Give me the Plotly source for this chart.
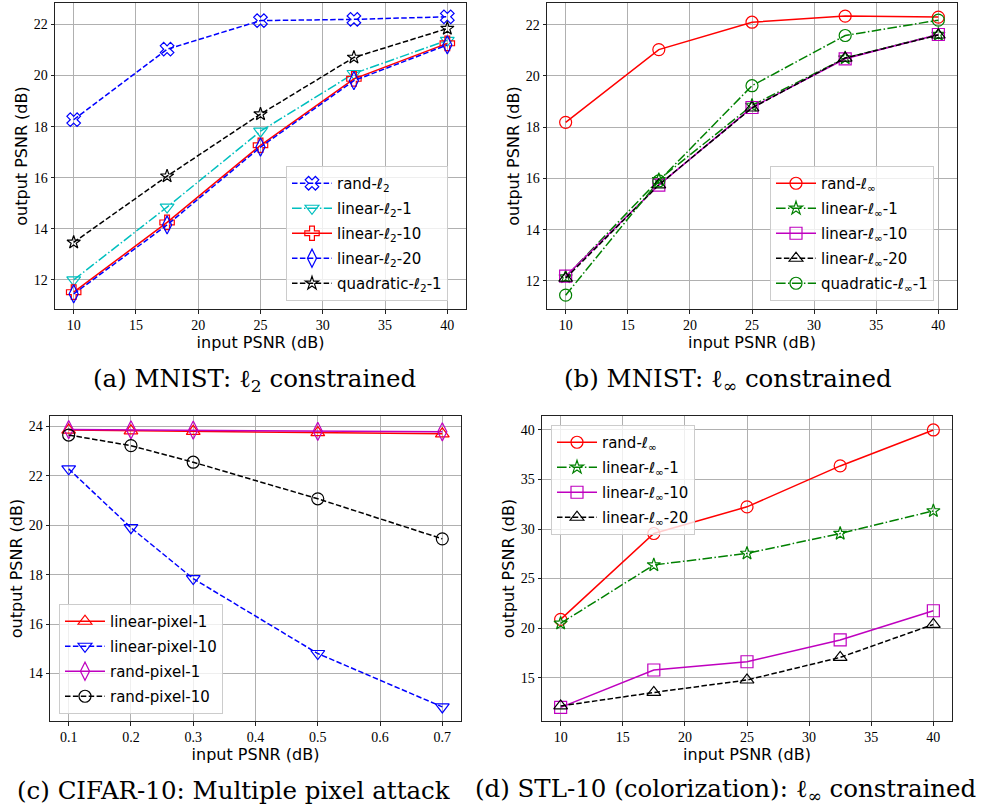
import plotly.graph_objects as go

# ---------------- data ----------------
psnr_x = [10, 17.5, 25, 32.5, 40]
pixel_x = [0.1, 0.2, 0.3, 0.5, 0.7]

# (a) MNIST l2
a_rand_l2 = [18.27, 21.03, 22.15, 22.2, 22.3]
a_lin_l2_1 = [12.0, 14.85, 17.82, 20.08, 21.38]
a_lin_l2_10 = [11.52, 14.25, 17.27, 19.87, 21.26]
a_lin_l2_20 = [11.45, 14.15, 17.2, 19.8, 21.2]
a_quad_l2_1 = [13.47, 16.06, 18.49, 20.71, 21.84]

# (b) MNIST linf
b_rand = [18.19, 21.03, 22.1, 22.34, 22.3]
b_lin_1 = [12.15, 15.95, 18.85, 20.7, 21.62]
b_lin_10 = [12.18, 15.74, 18.77, 20.67, 21.62]
b_lin_20 = [12.1, 15.75, 18.75, 20.7, 21.6]
b_quad_1 = [11.44, 15.9, 19.62, 21.58, 22.18]

# (c) CIFAR-10 pixel
c_lin_pix_1 = [23.85, 23.82, 23.8, 23.75, 23.7]
c_lin_pix_10 = [22.28, 19.9, 17.84, 14.81, 12.65]
c_rand_pix_1 = [23.87, 23.86, 23.85, 23.8, 23.78]
c_rand_pix_10 = [23.65, 23.22, 22.55, 21.07, 19.45]

# (d) STL-10 linf
d_rand = [20.88, 29.55, 32.24, 36.37, 40.0]
d_lin_1 = [20.48, 26.37, 27.54, 29.55, 31.83]
d_lin_10 = [12.0, 15.77, 16.6, 18.8, 21.75]
d_lin_20 = [12.14, 13.5, 14.76, 17.04, 20.37]

# ---------------- styles ----------------
DASH = "5.5px,2.4px"
DASHDOT = "9.6px,2.4px,1.5px,2.4px"
BLUE, CYAN, RED, BLACK = "#0000ff", "#00bfbf", "#ff0000", "#000000"
GREEN, MAGENTA = "#008000", "#bf00bf"
SANS = "DejaVu Sans"
SERIF = "DejaVu Serif"

fig = go.Figure()
_count = [0]


def add(x, y, name, color, dash, symbol, size, ax, legend):
    _count[0] += 1
    fig.add_trace(go.Scatter(
        x=x, y=y, name=name, mode="lines+markers",
        line=dict(color=color, width=1.5, dash=dash),
        marker=dict(symbol=symbol, size=size, color=color,
                    line=dict(color=color, width=1.2)),
        xaxis="x" + ax, yaxis="y" + ax, legend=legend,
        legendgroup="g%d" % _count[0]))


# (a)
add(psnr_x, a_rand_l2, "rand-ℓ<sub>2</sub>", BLUE, DASH, "x-open", 12, "", "legend")
add(psnr_x, a_lin_l2_1, "linear-ℓ<sub>2</sub>-1", CYAN, DASHDOT, "triangle-down-open", 12, "", "legend")
add(psnr_x, a_lin_l2_10, "linear-ℓ<sub>2</sub>-10", RED, "solid", "cross-open", 12, "", "legend")
add(psnr_x, a_lin_l2_20, "linear-ℓ<sub>2</sub>-20", BLUE, DASH, "diamond-tall-open", 13, "", "legend")
add(psnr_x, a_quad_l2_1, "quadratic-ℓ<sub>2</sub>-1", BLACK, DASH, "star-open", 10, "", "legend")

# (b)
add(psnr_x, b_rand, "rand-ℓ<sub>∞</sub>", RED, "solid", "circle-open", 12, "2", "legend2")
add(psnr_x, b_lin_1, "linear-ℓ<sub>∞</sub>-1", GREEN, DASHDOT, "star-open", 10, "2", "legend2")
add(psnr_x, b_lin_10, "linear-ℓ<sub>∞</sub>-10", MAGENTA, "solid", "square-open", 12, "2", "legend2")
add(psnr_x, b_lin_20, "linear-ℓ<sub>∞</sub>-20", BLACK, DASH, "triangle-up-open", 12, "2", "legend2")
add(psnr_x, b_quad_1, "quadratic-ℓ<sub>∞</sub>-1", GREEN, DASHDOT, "circle-open", 12, "2", "legend2")

# (c)
add(pixel_x, c_lin_pix_1, "linear-pixel-1", RED, "solid", "triangle-up-open", 12, "3", "legend3")
add(pixel_x, c_lin_pix_10, "linear-pixel-10", BLUE, DASH, "triangle-down-open", 12, "3", "legend3")
add(pixel_x, c_rand_pix_1, "rand-pixel-1", MAGENTA, "solid", "diamond-tall-open", 13, "3", "legend3")
add(pixel_x, c_rand_pix_10, "rand-pixel-10", BLACK, DASH, "circle-open", 12, "3", "legend3")

# (d)
add(psnr_x, d_rand, "rand-ℓ<sub>∞</sub>", RED, "solid", "circle-open", 12, "4", "legend4")
add(psnr_x, d_lin_1, "linear-ℓ<sub>∞</sub>-1", GREEN, DASHDOT, "star-open", 10, "4", "legend4")
add(psnr_x, d_lin_10, "linear-ℓ<sub>∞</sub>-10", MAGENTA, "solid", "square-open", 12, "4", "legend4")
add(psnr_x, d_lin_20, "linear-ℓ<sub>∞</sub>-20", BLACK, DASH, "triangle-up-open", 12, "4", "legend4")

W, H = 994, 809


def px_x(p):
    return p / W


def px_y(p):
    return 1 - p / H


def axis(dom, rng, tickvals, title, anchor, standoff):
    return dict(domain=dom, range=rng, tickvals=tickvals, anchor=anchor,
                showgrid=True, gridcolor="#b0b0b0", gridwidth=0.8,
                showline=True, mirror=True, linecolor="#222222", linewidth=1,
                ticks="outside", ticklen=3.5, tickcolor="#222222",
                tickfont=dict(family="Liberation Serif", size=14, color="black"),
                zeroline=False,
                title=dict(text=title, font=dict(family=SANS, size=16, color="black"),
                           standoff=standoff))


psnr_ticks = [10, 15, 20, 25, 30, 35, 40]
pix_ticks = [0.1, 0.2, 0.3, 0.4, 0.5, 0.6, 0.7]

legend_style = dict(bgcolor="rgba(255,255,255,0.8)", bordercolor="#cccccc",
                    borderwidth=1, font=dict(family=SANS, size=15, color="black"),
                    xanchor="left", yanchor="top", xref="paper", yref="paper",
                    tracegroupgap=2.5, itemwidth=40)

fig.update_layout(
    width=W, height=H, margin=dict(l=0, r=0, t=0, b=0),
    paper_bgcolor="white", plot_bgcolor="white", showlegend=True,
    xaxis=axis([px_x(55), px_x(466)], [8.5, 41.5], psnr_ticks, "input PSNR (dB)", "y", 3),
    yaxis=axis([px_y(309), px_y(3)], [10.86, 22.84], [12, 14, 16, 18, 20, 22], "output PSNR (dB)", "x", 2),
    xaxis2=axis([px_x(547), px_x(957)], [8.5, 41.5], psnr_ticks, "input PSNR (dB)", "y2", 3),
    yaxis2=axis([px_y(309), px_y(3)], [10.9, 22.85], [12, 14, 16, 18, 20, 22], "output PSNR (dB)", "x2", 2),
    xaxis3=axis([px_x(50), px_x(461)], [0.07, 0.73], pix_ticks, "input PSNR (dB)", "y3", 3),
    yaxis3=axis([px_y(721), px_y(416)], [12.08, 24.42], [14, 16, 18, 20, 22, 24], "output PSNR (dB)", "x3", 2),
    xaxis4=axis([px_x(542), px_x(952)], [8.5, 41.5], psnr_ticks, "input PSNR (dB)", "y4", 3),
    yaxis4=axis([px_y(721), px_y(416)], [10.62, 41.41], [15, 20, 25, 30, 35, 40], "output PSNR (dB)", "x4", 2),
    legend=dict(x=px_x(286), y=px_y(166), **legend_style),
    legend2=dict(x=px_x(770), y=px_y(166), **legend_style),
    legend3=dict(x=px_x(59), y=px_y(604), **legend_style),
    legend4=dict(x=px_x(551), y=px_y(425), **legend_style),
)

cap_font = dict(family=SERIF, size=24.5, color="black")
captions = [
    ("(a) MNIST: ℓ<sub>2</sub> constrained", 254, 380),
    ("(b) MNIST: ℓ<sub>∞</sub> constrained", 728, 380),
    ("(c) CIFAR-10: Multiple pixel attack", 234, 790),
    ("(d) STL-10 (colorization): ℓ<sub>∞</sub> constrained", 725, 790),
]
for text, cx, cy in captions:
    fig.add_annotation(text=text, x=px_x(cx), y=px_y(cy), xref="paper", yref="paper",
                       xanchor="center", yanchor="middle", showarrow=False, font=cap_font)

fig.write_html("out.html", config={"displayModeBar": False},
               post_script="document.body.style.margin='0px';")
